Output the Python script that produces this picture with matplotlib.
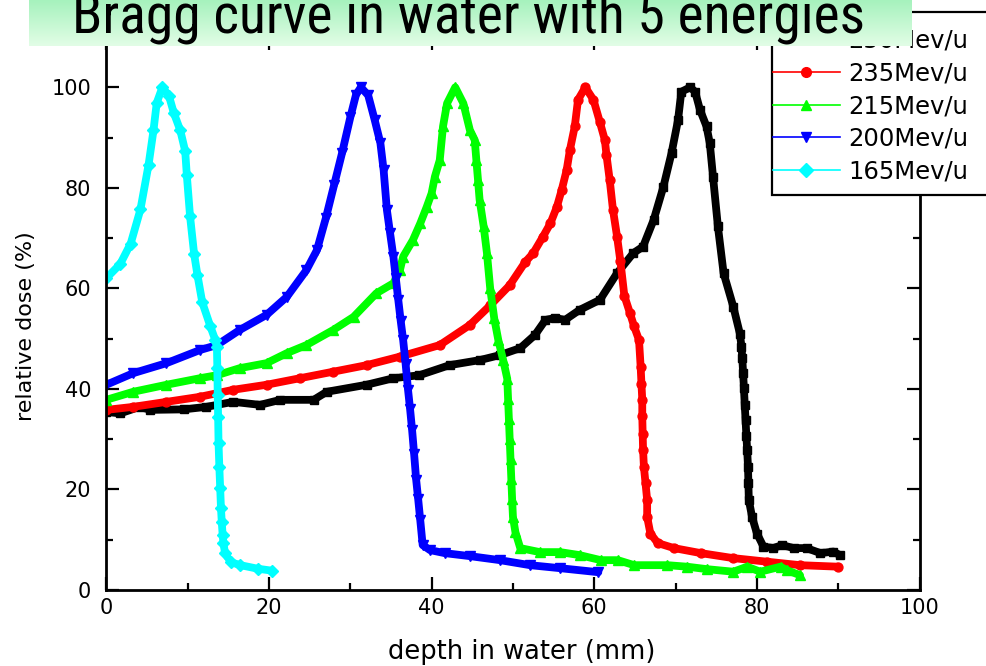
import matplotlib
matplotlib.use("Agg")
import numpy as np
import matplotlib.pyplot as plt
from matplotlib import font_manager
from matplotlib.lines import Line2D
from matplotlib.patches import Rectangle
from matplotlib.ticker import MultipleLocator
from matplotlib.colors import LinearSegmentedColormap

plt.rcParams["font.family"] = ["DejaVu Sans"]

# ---- measured depth-dose data (depth in mm, relative dose in %) ----
energies = ["250Mev/u", "235Mev/u", "215Mev/u", "200Mev/u", "165Mev/u"]

depth_250 = [0, 1.7, 4.1, 5.4, 9.5, 12.3, 15.6, 18.9, 21.4, 25.5, 27.1, 32.0, 35.3,
             38.5, 42.2, 45.9, 48.4, 50.9, 52.7, 54.0, 55.2, 56.4, 58.2, 60.7, 62.8,
             64.8, 66.0, 67.3, 68.5, 69.5, 70.3, 70.7, 71.8, 72.4, 73.0, 73.8, 74.2,
             74.6, 75.2, 75.9, 77.1, 77.9, 78.1, 78.2, 78.3, 78.4, 78.5, 78.6, 78.7,
             78.8, 78.9, 78.95, 79.0, 79.4, 80.0, 80.8, 82.0, 83.1, 84.5, 86.1, 87.8,
             89.4, 90.2]
dose_250 = [35.4, 35.1, 36.4, 35.8, 35.9, 36.4, 37.4, 36.8, 37.8, 37.8, 39.4, 40.8, 42.1,
            42.7, 44.7, 45.7, 46.7, 48.1, 50.7, 53.7, 54.1, 53.7, 55.7, 57.7, 63.0,
            67.0, 68.3, 73.6, 80.2, 86.9, 93.5, 99.1, 100.0, 99.1, 95.5, 92.2, 88.9,
            82.2, 72.3, 63.0, 56.3, 51.0, 48.4, 46.1, 43.1, 40.1, 36.8, 33.8, 30.6,
            27.8, 24.5, 21.2, 17.9, 14.5, 11.2, 8.6, 8.3, 8.9, 8.3, 8.3, 7.3,
            7.6, 6.9]

depth_235 = [0, 3.3, 7.4, 11.5, 15.6, 19.7, 23.8, 27.9, 32.0, 36.1, 41.0, 44.7, 47.2,
             49.6, 51.5, 52.5, 53.7, 54.6, 55.4, 56.0, 56.6, 57.0, 57.6, 58.0, 58.9,
             59.9, 60.7, 61.3, 61.5, 61.9, 62.3, 62.8, 63.2, 63.7, 64.4, 64.9, 65.5,
             65.7, 65.8, 65.9, 65.9, 65.95, 66.0, 66.1, 66.3, 66.5, 66.5, 66.9, 67.8,
             69.8, 73.1, 77.1, 81.2, 85.3, 90.0]
dose_235 = [35.8, 36.4, 37.4, 38.4, 39.8, 40.8, 42.1, 43.4, 44.7, 46.4, 48.7, 52.7, 56.6,
            60.6, 65.2, 67.0, 70.3, 72.9, 76.2, 79.6, 83.5, 87.5, 92.2, 97.5, 100.0,
            97.5, 93.0, 89.5, 86.5, 81.5, 75.6, 70.3, 65.5, 58.5, 55.0, 52.4, 49.7,
            44.4, 41.0, 37.8, 34.5, 31.1, 27.8, 24.5, 21.2, 17.9, 14.5, 11.2, 9.3,
            8.3, 7.3, 6.3, 5.6, 4.9, 4.6]

depth_215 = [0, 3.3, 7.4, 11.5, 13.6, 16.4, 19.7, 22.2, 24.6, 27.9, 30.4, 33.2, 35.3,
             36.1, 36.5, 37.7, 38.6, 39.4, 40.0, 40.4, 41.0, 41.4, 41.9, 42.9, 43.9,
             44.7, 45.3, 45.5, 45.7, 45.9, 46.4, 46.8, 47.2, 47.7, 48.2, 48.8, 49.3,
             49.4, 49.5, 49.6, 49.7, 49.8, 49.9, 50.0, 50.3, 50.9, 53.3, 55.8, 58.2,
             60.8, 62.9, 64.9, 69.0, 71.4, 73.9, 77.1, 78.8, 80.4, 82.9, 83.7, 85.3]
dose_215 = [37.8, 39.4, 40.8, 42.1, 42.7, 44.1, 45.1, 47.1, 48.7, 51.7, 54.3, 59.0, 61.0,
            63.6, 66.3, 69.6, 72.9, 76.2, 78.9, 82.2, 85.5, 92.2, 96.8, 100.0, 96.8,
            91.5, 89.5, 85.5, 81.6, 77.6, 72.3, 67.0, 60.0, 54.0, 49.7, 45.7, 42.0,
            38.0, 34.0, 30.0, 26.0, 22.0, 18.0, 14.5, 11.5, 8.3, 7.5, 7.5, 6.9,
            5.9, 5.9, 4.9, 4.9, 4.6, 4.1, 3.6, 4.6, 3.6, 4.6, 3.9, 2.9]

depth_200 = [0, 3.3, 7.4, 11.5, 13.6, 16.4, 19.7, 22.2, 24.6, 25.9, 27.0, 28.0, 29.0,
             30.0, 30.7, 31.3, 32.2, 33.0, 33.7, 34.1, 34.5, 34.9, 35.3, 35.6, 35.9,
             36.2, 36.5, 36.8, 37.1, 37.35, 37.6, 37.85, 38.1, 38.35, 38.6, 38.9, 39.8,
             41.6, 44.7, 48.4, 52.1, 55.8, 60.5]
dose_200 = [40.8, 43.1, 45.1, 47.7, 48.7, 51.7, 54.7, 58.3, 63.6, 67.6, 74.0, 80.5, 87.0,
            94.0, 98.5, 100.0, 98.4, 93.5, 88.9, 83.5, 75.6, 70.9, 66.3, 62.0, 57.7,
            53.5, 49.7, 45.0, 39.8, 36.0, 31.8, 27.0, 21.9, 18.0, 13.9, 8.9, 7.9,
            7.3, 6.7, 5.9, 4.9, 4.3, 3.5]

depth_165 = [0, 1.7, 3.0, 4.2, 5.2, 5.8, 6.2, 6.9, 7.7, 8.3, 9.1, 9.7, 9.9, 10.3, 10.8,
             11.2, 11.8, 12.8, 13.4, 13.6, 13.65, 13.7, 13.75, 13.8, 13.9, 14.0, 14.1,
             14.2, 14.3, 14.4, 14.6, 15.3, 16.5, 18.6, 20.4]
dose_165 = [62.0, 64.8, 68.9, 75.7, 84.6, 91.4, 96.9, 100.0, 98.3, 94.9, 91.4, 87.3, 82.5,
            74.3, 66.8, 62.7, 57.2, 52.4, 49.7, 48.3, 44.2, 38.7, 34.3, 29.2, 24.4,
            20.3, 16.2, 13.4, 11.0, 9.3, 7.3, 5.5, 4.9, 4.2, 3.8]

depths = [depth_250, depth_235, depth_215, depth_200, depth_165]
doses = [dose_250, dose_235, dose_215, dose_200, dose_165]

colors = ["#000000", "#ff0000", "#00ff00", "#0000ff", "#00ffff"]
markers = ["s", "o", "^", "v", "D"]
marker_sizes = [6.2, 6.4, 7.0, 7.0, 6.2]

x_ticks = [0, 20, 40, 60, 80, 100]
y_ticks = [0, 20, 40, 60, 80, 100]

title_text = "Bragg curve in water with 5 energies"


def pick_title_font():
    """Prefer a narrow sans face for the banner; fall back to DejaVu Sans."""
    for fam, size in (("Liberation Sans Narrow", 43), ("DejaVu Sans Condensed", 34),
                      ("Roboto Condensed", 40)):
        try:
            font_manager.findfont(font_manager.FontProperties(family=fam),
                                  fallback_to_default=False)
            return fam, size
        except Exception:
            continue
    return "DejaVu Sans", 30.8


# ---- figure layout (pixel geometry) ----
W, H = 987, 666
fig = plt.figure(figsize=(W / 100, H / 100), dpi=100)
fig.patch.set_facecolor("white")

ax_l, ax_r, ax_b, ax_t = 106.3, 919.6, 589.8, 37.0
ax = fig.add_axes([ax_l / W, 1 - ax_b / H, (ax_r - ax_l) / W, (ax_b - ax_t) / H])

for x, y, c, m, ms in zip(depths, doses, colors, markers, marker_sizes):
    # thick trace of the densely sampled measurement
    ax.plot(x, y, color=c, lw=5.6, solid_joinstyle="round",
            solid_capstyle="round")
    ax.plot(x, y, color=c, lw=1.2, marker=m, ms=ms, mec=c, mfc=c,
            linestyle="-")

ax.set_xlim(0, 100)
ax.set_ylim(0, 110)
ax.set_xticks(x_ticks)
ax.set_yticks(y_ticks)
ax.xaxis.set_minor_locator(MultipleLocator(10))
ax.yaxis.set_minor_locator(MultipleLocator(10))
ax.tick_params(which="both", direction="in", top=True, right=True,
               width=1.6, colors="black")
ax.tick_params(which="major", length=9.5, labelsize=15)
ax.tick_params(which="minor", length=5)
ax.tick_params(axis="x", which="major", pad=6)
ax.tick_params(axis="y", which="major", pad=11)
for sp in ax.spines.values():
    sp.set_linewidth(2.0)

ax.set_xlabel("depth in water (mm)", fontsize=18.5, va="center")
ax.xaxis.set_label_coords((522 - ax_l) / (ax_r - ax_l), (ax_b - 652) / (ax_b - ax_t))
ax.set_ylabel("relative dose (%)", fontsize=16, va="center", ha="center")
ax.yaxis.set_label_coords((26 - ax_l) / (ax_r - ax_l), (ax_b - 326.5) / (ax_b - ax_t))

# ---- legend box (runs off the right edge of the figure) ----
frame = Rectangle((772 / W, 1 - 195 / H), (1010 - 772) / W, (195 - 12) / H,
                  transform=fig.transFigure, facecolor="white", edgecolor="black",
                  linewidth=1.6, zorder=4)
fig.add_artist(frame)

handles = [Line2D([], [], color=c, marker=m, lw=1.2, ms=7, mec=c, mfc=c)
           for c, m in zip(colors, markers)]
leg = fig.legend(handles, energies, loc="upper left",
                 bbox_to_anchor=(773 / W, 1 - 29 / H),
                 frameon=False, fontsize=17.5, handlelength=2.75,
                 handletextpad=0.33, labelspacing=0.35, borderpad=0,
                 borderaxespad=0)
leg.set_zorder(5)

# ---- title banner with green gradient ----
tax = fig.add_axes([29 / W, 1 - 46 / H, (912 - 29) / W, 46 / H], zorder=10)
grad_cmap = LinearSegmentedColormap.from_list("banner", ["#a6f2bd", "#e2fde6"])
tax.imshow(np.linspace(0, 1, 64).reshape(-1, 1), aspect="auto", cmap=grad_cmap,
           extent=[0, 1, 0, 1], origin="upper")
tax.set_xlim(0, 1)
tax.set_ylim(0, 1)
tax.axis("off")
title_family, title_size = pick_title_font()
tax.text((469 - 29) / 883, (46 - 33) / 46, title_text, ha="center", va="baseline",
         fontsize=title_size, color="black", transform=tax.transAxes, clip_on=False,
         family=[title_family, "DejaVu Sans"])

fig.savefig("out.png", dpi=100)
